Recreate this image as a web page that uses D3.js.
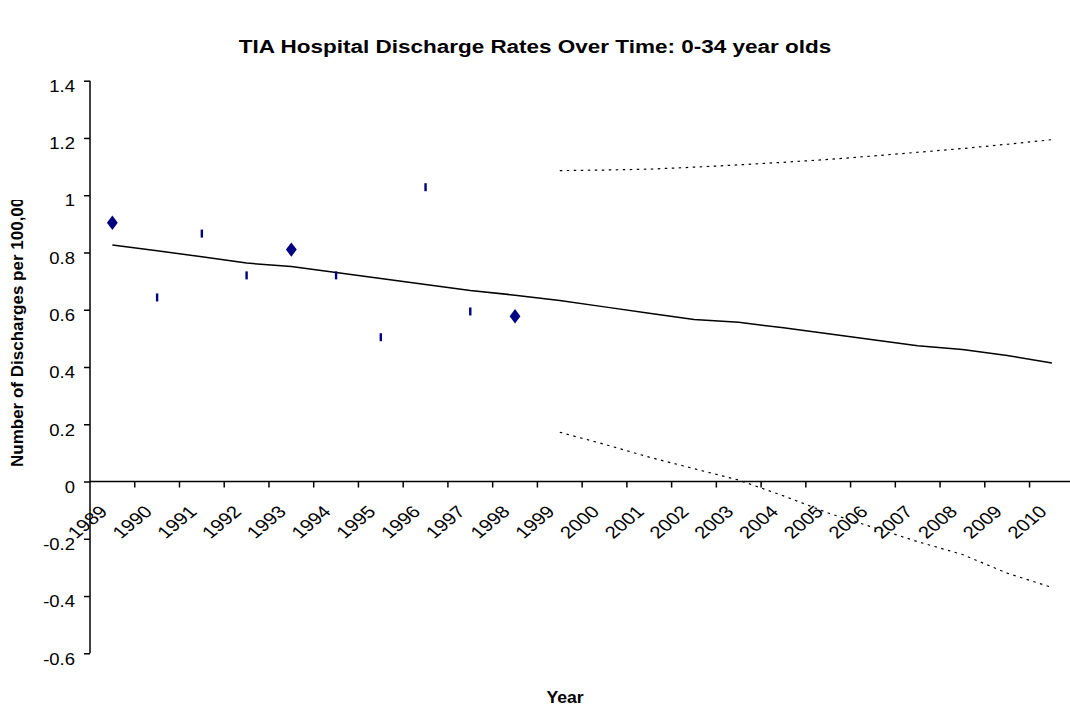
<!DOCTYPE html>
<html>
<head>
<meta charset="utf-8">
<script src="https://cdn.jsdelivr.net/npm/d3@7"></script>
<style>
  html, body { margin: 0; padding: 0; background: #fff; }
  svg { display: block; font-family: "Liberation Sans", Arial, sans-serif; }
</style>
</head>
<body>
<svg id="chart" width="1070" height="710"></svg>
<script>
// Years on the category axis
const years = [1989, 1990, 1991, 1992, 1993, 1994, 1995, 1996, 1997, 1998, 1999,
               2000, 2001, 2002, 2003, 2004, 2005, 2006, 2007, 2008, 2009, 2010];

// Observed discharge rates (1989-1998)
const observedYears = [1989, 1990, 1991, 1992, 1993, 1994, 1995, 1996, 1997, 1998];
const observedRates = [0.904, 0.643, 0.866, 0.720, 0.810, 0.720, 0.504, 1.028, 0.594, 0.577];
// years drawn as diamonds; the rest are drawn as short vertical ticks
const diamondYears = [1989, 1993, 1998];

// Fitted trend, 1989-2010
const trendRates = [0.826, 0.806, 0.785, 0.763, 0.751, 0.730, 0.709, 0.688, 0.667, 0.651, 0.632,
                    0.610, 0.588, 0.566, 0.556, 0.537, 0.516, 0.495, 0.474, 0.461, 0.440, 0.414];

// Forecast bounds, 1999-2010
const boundYears = [1999, 2000, 2001, 2002, 2003, 2004, 2005, 2006, 2007, 2008, 2009, 2010];
const upperBound = [1.086, 1.088, 1.091, 1.098, 1.106, 1.115, 1.125, 1.137, 1.150, 1.163, 1.178, 1.194];
const lowerBound = [0.172, 0.130, 0.085, 0.045, 0.005, -0.050, -0.110, -0.160, -0.210, -0.255, -0.320, -0.370];

// Value axis ticks
const yTicks = [-0.6, -0.4, -0.2, 0, 0.2, 0.4, 0.6, 0.8, 1, 1.2, 1.4];

const svg = d3.select("#chart");
const left = 90, bandW = 44.74;
const sx = 1.12;         // text is drawn slightly wide
const fs = 16.5;         // axis text size

const x = d3.scaleBand()
  .domain(years)
  .range([left, left + bandW * years.length])
  .paddingInner(0).paddingOuter(0);

const y = d3.scaleLinear().domain([-0.6, 1.4]).range([653.3, 80.7]);
const cx = yr => x(yr) + x.bandwidth() / 2;

// Title
svg.append("text")
  .attr("transform", `translate(535,53) scale(1.25,1)`)
  .attr("text-anchor", "middle")
  .attr("font-weight", "bold").attr("font-size", 18)
  .text("TIA Hospital Discharge Rates Over Time: 0-34 year olds");

// Y axis
const yAxis = d3.axisLeft(y).tickValues(yTicks)
  .tickSize(6)
  .tickFormat(d => String(+d.toFixed(1)));
const gy = svg.append("g").attr("transform", `translate(${left},0)`).call(yAxis);
gy.select(".domain").attr("stroke", "#000").attr("stroke-width", 1.5)
  .attr("d", `M0,${y(1.4)}V${y(-0.6)}`);
gy.selectAll(".tick line").attr("stroke", "#000").attr("stroke-width", 1.5);
gy.selectAll(".tick text")
  .attr("x", null).attr("dy", null)
  .attr("transform", `translate(-15,${fs * 0.35 + 5}) scale(${sx},1)`)
  .attr("font-size", fs).attr("fill", "#000")
  .attr("font-family", "Liberation Sans, Arial, sans-serif");

// X axis at zero, with ticks between categories
const xAxisG = svg.append("g").attr("transform", `translate(0,${y(0)})`);
xAxisG.append("line")
  .attr("x1", left).attr("x2", x.range()[1])
  .attr("stroke", "#000").attr("stroke-width", 1.5);
xAxisG.selectAll("line.tk").data(years).join("line")
  .attr("class", "tk")
  .attr("x1", d => x(d) + x.bandwidth()).attr("x2", d => x(d) + x.bandwidth())
  .attr("y1", 0).attr("y2", 6)
  .attr("stroke", "#000").attr("stroke-width", 1.5);
xAxisG.selectAll("text").data(years).join("text")
  .attr("transform", d => `translate(${cx(d) - 9},27) scale(1.2,1) rotate(-45)`)
  .attr("text-anchor", "end").attr("dy", "0.35em")
  .attr("font-size", 17)
  .text(d => d);

// Trend line
const line = d3.line().x(d => cx(d[0])).y(d => y(d[1]));
svg.append("path")
  .datum(years.map((yr, i) => [yr, trendRates[i]]))
  .attr("d", line).attr("fill", "none")
  .attr("stroke", "#000").attr("stroke-width", 1.5);

// Forecast bounds, dotted
[upperBound, lowerBound].forEach(b => {
  svg.append("path")
    .datum(boundYears.map((yr, i) => [yr, b[i]]))
    .attr("d", line).attr("fill", "none")
    .attr("stroke", "#000").attr("stroke-width", 1.2)
    .attr("stroke-dasharray", "2.5,4.5");
});

// Observed points
const pts = observedYears.map((yr, i) => ({ yr, v: observedRates[i] }));
svg.selectAll("path.diamond").data(pts.filter(p => diamondYears.includes(p.yr))).join("path")
  .attr("class", "diamond")
  .attr("d", d3.symbol(d3.symbolDiamond, 60))
  .attr("transform", d => `translate(${cx(d.yr)},${y(d.v)}) scale(1.3,1)`)
  .attr("fill", "#000080");
svg.selectAll("rect.dash").data(pts.filter(p => !diamondYears.includes(p.yr))).join("rect")
  .attr("class", "dash")
  .attr("x", d => cx(d.yr) - 1.2).attr("y", d => y(d.v) - 4)
  .attr("width", 2.4).attr("height", 8)
  .attr("fill", "#000080");

// Axis titles
svg.append("text")
  .attr("transform", `translate(565,703) scale(1.1,1)`)
  .attr("text-anchor", "middle")
  .attr("font-weight", "bold").attr("font-size", 16)
  .text("Year");

svg.append("clipPath").attr("id", "ytitle-clip")
  .append("rect").attr("x", 0).attr("y", 200).attr("width", 45).attr("height", 420);
svg.append("g").attr("clip-path", "url(#ytitle-clip)")
  .append("text")
  .attr("transform", `translate(23,467) rotate(-90)`)
  .attr("text-anchor", "start")
  .attr("font-weight", "bold").attr("font-size", 17)
  .text("Number of Discharges per 100,000");
</script>
</body>
</html>
